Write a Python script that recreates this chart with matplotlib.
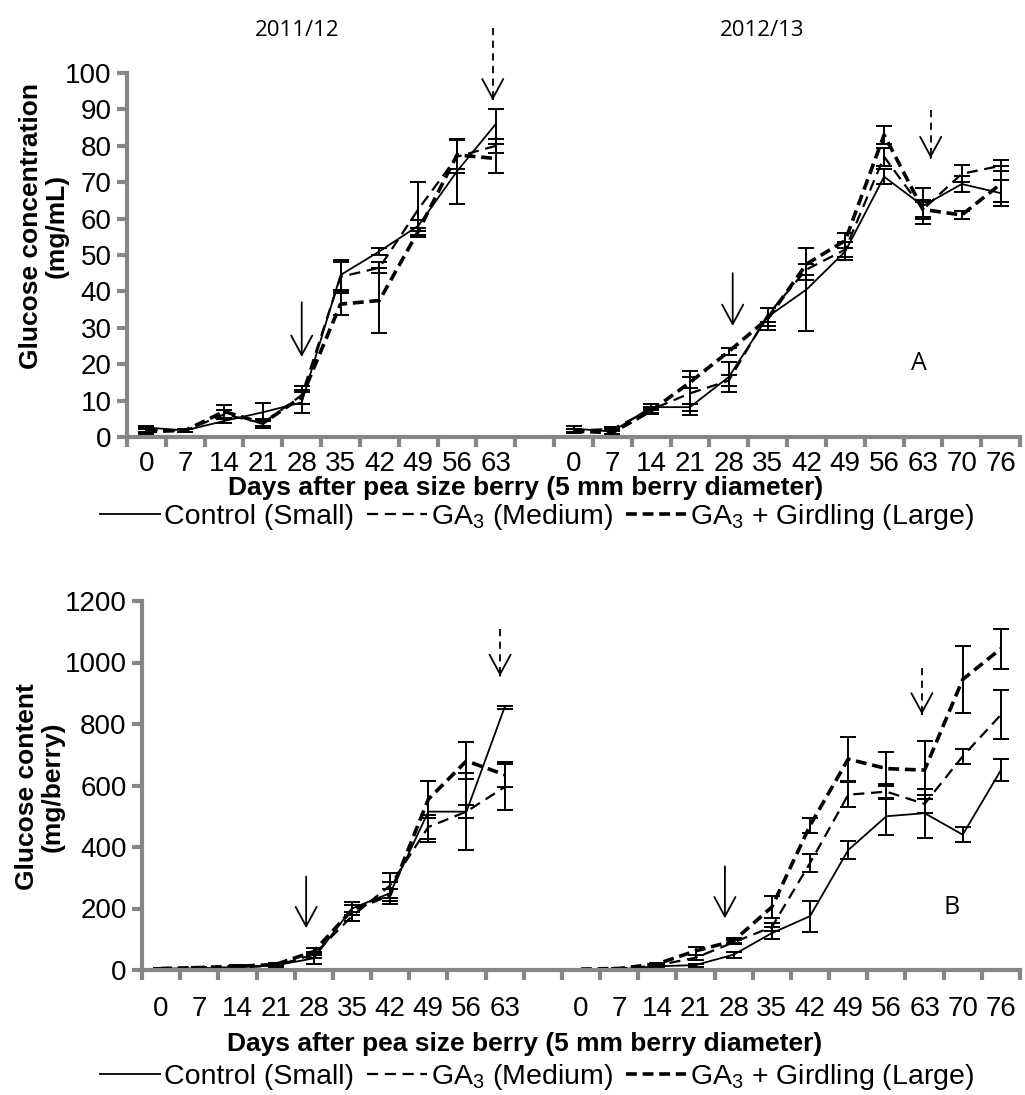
import matplotlib.pyplot as plt
from matplotlib.lines import Line2D
import numpy as np

plt.rcParams['font.family'] = ['Liberation Sans', 'DejaVu Sans']
plt.rcParams['mathtext.fontset'] = 'custom'
plt.rcParams['mathtext.rm'] = 'Liberation Sans'
plt.rcParams['mathtext.it'] = 'Liberation Sans:italic'
plt.rcParams['mathtext.bf'] = 'Liberation Sans:bold'

# days after pea size berry, two seasons
days_1 = [0, 7, 14, 21, 28, 35, 42, 49, 56, 63]
days_2 = [0, 7, 14, 21, 28, 35, 42, 49, 56, 63, 70, 76]
seasons = ["2011/12", "2012/13"]
treatments = ["Control (Small)", r"GA$_3$ (Medium)", r"GA$_3$ + Girdling (Large)"]

# glucose concentration (mg/mL), mean and error
conc_ctrl_1 = [2.6, 1.8, 4.4, 6.8, 9.5, 44.5, 51.0, 58.0, 73.0, 86.0]
conc_ctrl_1_err = [0.5, 0.4, 0.6, 2.5, 3.0, 4.2, 1.0, 1.5, 9.0, 4.0]
conc_ga_1 = [2.0, 1.7, 6.2, 3.8, 11.5, 44.0, 46.5, 62.5, 77.0, 80.0]
conc_ga_1_err = [0.5, 0.4, 1.2, 0.8, 2.5, 4.0, 1.5, 7.5, 4.5, 2.0]
conc_gag_1 = [1.5, 1.8, 7.0, 3.8, 11.0, 36.5, 37.5, 56.5, 77.5, 76.5]
conc_gag_1_err = [0.6, 0.5, 1.8, 1.2, 2.0, 3.0, 9.0, 1.0, 4.0, 4.0]

conc_ctrl_2 = [2.3, 1.5, 8.2, 8.2, 16.5, 33.0, 40.5, 51.0, 71.5, 63.5, 69.5, 67.0]
conc_ctrl_2_err = [0.8, 0.6, 0.8, 1.0, 4.0, 2.5, 11.5, 2.5, 2.0, 5.0, 2.3, 3.5]
conc_ga_2 = [1.8, 2.2, 7.5, 12.0, 15.5, 33.5, 46.0, 51.5, 77.0, 62.5, 72.3, 74.5]
conc_ga_2_err = [0.5, 0.5, 0.8, 6.0, 1.5, 2.0, 1.5, 2.0, 2.5, 2.5, 2.3, 1.5]
conc_gag_2 = [1.6, 1.2, 7.2, 15.0, 23.5, 32.5, 47.5, 54.0, 83.0, 62.5, 61.0, 69.5]
conc_gag_2_err = [0.5, 0.6, 0.8, 1.5, 1.0, 3.0, 4.5, 2.0, 2.5, 2.0, 1.0, 5.0]

# glucose content (mg/berry), mean and error
cont_ctrl_1 = [5, 5, 10, 15, 38, 200, 250, 515, 515, 855]
cont_ctrl_1_err = [2, 2, 3, 4, 18, 20, 35, 100, 125, 5]
cont_ga_1 = [3, 4, 8, 14, 50, 175, 275, 465, 515, 595]
cont_ga_1_err = [1, 1, 2, 3, 10, 15, 40, 40, 20, 75]
cont_gag_1 = [5, 8, 12, 18, 60, 195, 245, 555, 680, 635]
cont_gag_1_err = [2, 2, 3, 4, 10, 15, 20, 60, 60, 40]

cont_ctrl_2 = [2, 2, 12, 16, 50, 120, 175, 390, 500, 510, 440, 650]
cont_ctrl_2_err = [1, 1, 2, 5, 10, 20, 50, 30, 60, 80, 25, 35]
cont_ga_2 = [2, 3, 15, 40, 90, 140, 348, 570, 580, 540, 695, 830]
cont_ga_2_err = [1, 1, 3, 8, 6, 12, 30, 40, 25, 30, 25, 80]
cont_gag_2 = [3, 5, 20, 62, 95, 205, 470, 686, 655, 650, 945, 1045]
cont_gag_2_err = [1, 1, 3, 12, 8, 37, 25, 72, 55, 95, 110, 65]

GRAY = '#868686'
styles = [dict(linestyle='-', lw=1.3),
          dict(dashes=(5, 3), lw=1.6),
          dict(dashes=(3, 1.6), lw=2.6)]

x1 = np.arange(len(days_1))
x2 = np.arange(len(days_2)) + len(days_1) + 1
tick_labels = [str(d) for d in days_1] + [''] + [str(d) for d in days_2]
n_cat = len(tick_labels)


def arrow(ax, x, y0, y1, dashed=False):
    head = dict(arrowstyle='->,head_length=0.7,head_width=0.38', color='k',
                lw=1.3, shrinkA=0, shrinkB=0, mutation_scale=20)
    if dashed:
        ax.plot([x, x], [y0, y1], color='k', lw=1.3, dashes=(4, 3), clip_on=False)
        ax.annotate('', xy=(x, y1), xytext=(x, y1 + (y0 - y1) * 0.02),
                    annotation_clip=False, arrowprops=head)
    else:
        ax.annotate('', xy=(x, y1), xytext=(x, y0), annotation_clip=False, arrowprops=head)


def draw_panel(ax, season_1, season_2, ymax, ystep, ylabel, tick_pad):
    for (m1, e1), (m2, e2), st in zip(season_1, season_2, styles):
        for x, m, e in ((x1, m1, e1), (x2, m2, e2)):
            ax.plot(x, m, color='k', **st)
            ax.errorbar(x, m, yerr=e, fmt='none', ecolor='k', elinewidth=1.4,
                        capsize=6, capthick=1.4)

    ax.set_xlim(-0.5, n_cat - 0.5)
    ax.set_xticks(np.arange(-0.5, n_cat, 1))
    ax.set_xticklabels([])
    ax.set_xticks(np.arange(n_cat), minor=True)
    ax.set_xticklabels(tick_labels, minor=True)
    ax.tick_params(axis='x', which='major', length=7, width=3, color=GRAY, direction='out')
    ax.tick_params(axis='x', which='minor', length=0, pad=tick_pad, labelsize=20)

    ax.set_ylim(0, ymax)
    ax.set_yticks(np.arange(0, ymax + 1, ystep))
    ax.tick_params(axis='y', length=7, width=3, color=GRAY, labelsize=20, pad=4)

    for s in ['top', 'right']:
        ax.spines[s].set_visible(False)
    for s in ['left', 'bottom']:
        ax.spines[s].set_color(GRAY)
        ax.spines[s].set_linewidth(3)

    ax.set_ylabel(ylabel, fontsize=19, fontweight='bold', linespacing=1.1)
    ax.yaxis.label.set_va('center')
    ax.set_xlabel("Days after pea size berry (5 mm berry diameter)", fontsize=19, fontweight='bold')
    ax.xaxis.label.set_va('center')


fig = plt.figure(figsize=(10.25, 10.95), dpi=100)
W, H = 1025, 1095

axA = fig.add_axes([127 / W, 1 - 437 / H, 893 / W, 364 / H])
draw_panel(axA,
           [(conc_ctrl_1, conc_ctrl_1_err), (conc_ga_1, conc_ga_1_err), (conc_gag_1, conc_gag_1_err)],
           [(conc_ctrl_2, conc_ctrl_2_err), (conc_ga_2, conc_ga_2_err), (conc_gag_2, conc_gag_2_err)],
           100, 10, "Glucose concentration\n(mg/mL)", 10)
axA.yaxis.set_label_coords(-0.093, 0.58)
axA.xaxis.set_label_coords(0.446, -0.14)
arrow(axA, 4.0, 37, 22)
arrow(axA, 8.92, 112.5, 92.5, dashed=True)
arrow(axA, 15.1, 45, 30.5)
arrow(axA, 20.2, 89.8, 76.6, dashed=True)

axB = fig.add_axes([142 / W, 1 - 970 / H, 878 / W, 369 / H])
draw_panel(axB,
           [(cont_ctrl_1, cont_ctrl_1_err), (cont_ga_1, cont_ga_1_err), (cont_gag_1, cont_gag_1_err)],
           [(cont_ctrl_2, cont_ctrl_2_err), (cont_ga_2, cont_ga_2_err), (cont_gag_2, cont_gag_2_err)],
           1200, 200, "Glucose content\n(mg/berry)", 19)
axB.yaxis.set_label_coords(-0.116, 0.496)
axB.xaxis.set_label_coords(0.436, -0.2)
arrow(axB, 3.8, 304, 136)
arrow(axB, 8.88, 1108, 956, dashed=True)
arrow(axB, 14.77, 337, 168)
arrow(axB, 19.93, 983, 831, dashed=True)

# season headers and panel letters
fig.text(297 / W, 1 - 30 / H, seasons[0], ha='center', va='center', fontsize=16, family='Open Sans')
fig.text(762 / W, 1 - 30 / H, seasons[1], ha='center', va='center', fontsize=16, family='Open Sans')
fig.text(919 / W, 1 - 364 / H, "A", ha='center', va='center', fontsize=18, family='Open Sans')
fig.text(952 / W, 1 - 907 / H, "B", ha='center', va='center', fontsize=18, family='Open Sans')

handles = [Line2D([], [], color='k', **st) for st in styles]
for yc in (517, 1077):
    fig.legend(handles, treatments, loc='center', bbox_to_anchor=(537 / W, 1 - yc / H),
               ncol=3, frameon=False, fontsize=20.5, handlelength=2.1, handletextpad=0.15,
               columnspacing=0.45, borderpad=0.1)

fig.savefig('out.png', dpi=100)
